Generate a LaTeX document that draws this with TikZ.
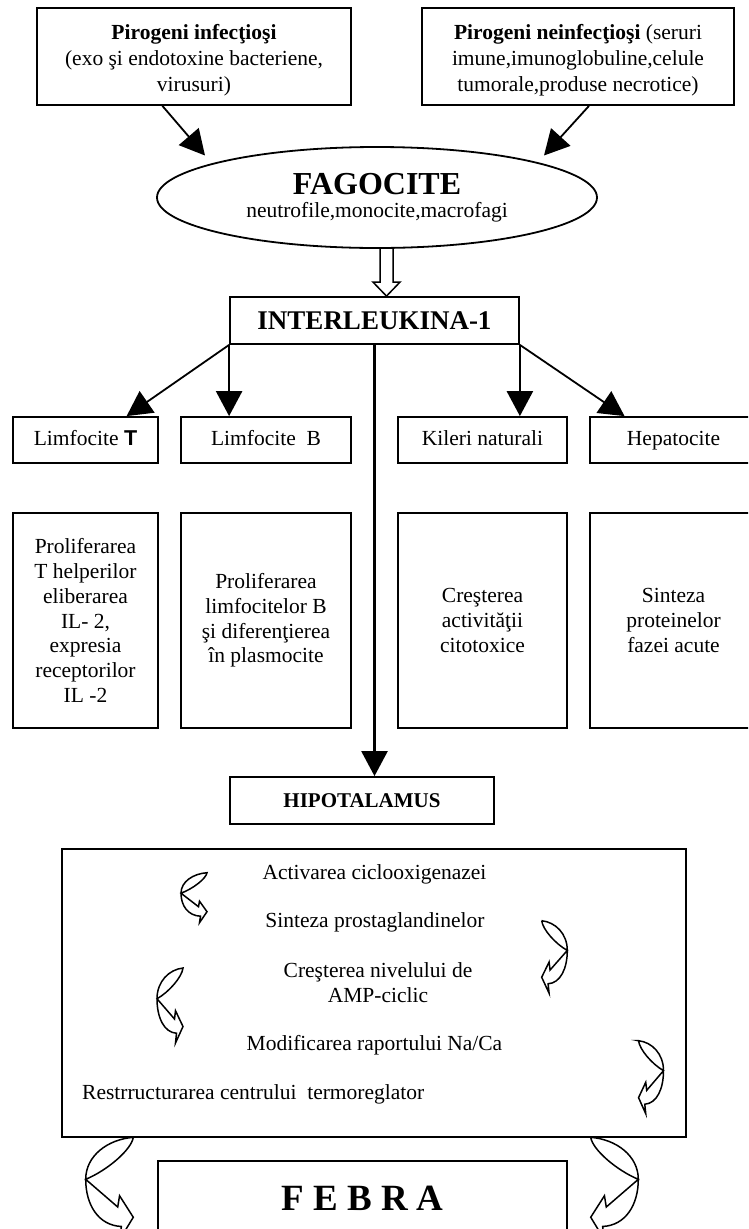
\documentclass[tikz,border=0pt]{standalone}
\usepackage{fontspec}
\setmainfont{Liberation Serif}
\newfontfamily\arialf{Liberation Sans}
\usetikzlibrary{arrows.meta,calc,shapes.geometric}
\newcommand{\nsz}{\fontsize{21.5}{24.8}\selectfont}
\newcommand{\curlyshape}{\draw[curly] (26,0) .. controls (12,1) and (0,9) .. (0,20.5)
      .. controls (0,33) and (7,43) .. (19.5,43.5) -- (18.5,50) -- (26,39)
      -- (18.5,28.5) -- (17.5,34) -- (0,20.5) .. controls (12,16) and (25,6) .. cycle;}
\begin{document}
\begin{tikzpicture}[x=1pt,y=-1pt,
  box/.style={draw, line width=1.8pt, rectangle, inner sep=0pt, align=center, font=\nsz},
  sb/.style={text height=15pt, text depth=4.5pt},
  txt/.style={inner sep=0pt, align=center, font=\nsz},
  arr/.style={line width=1.8pt, -{Triangle[length=25pt,width=26pt]}},
  varr/.style={line width=2.5pt, -{Triangle[length=25pt,width=26pt]}},
  curly/.style={line width=1.5pt, line join=miter},
  hollow/.style={line width=1.5pt, line join=miter}]
\useasboundingbox (0,0) rectangle (748,1229);
\clip (0,0) rectangle (748,1229);

% top boxes
\node[box, minimum width=314pt, minimum height=97pt, font={\fontsize{21.5}{26}\selectfont}] (pi) at (194,56.5)
  {\rule{0pt}{23pt}\textbf{Pirogeni infecţioşi}\\(exo şi endotoxine bacteriene,\\virusuri)};
\node[box, minimum width=312pt, minimum height=97pt, font={\fontsize{21.5}{26}\selectfont}] (pn) at (578,56.5)
  {\rule{0pt}{23pt}\textbf{Pirogeni neinfecţioşi} (seruri\\imune,imunoglobuline,celule\\tumorale,produse necrotice)};

% ellipse
\node[draw, ellipse, line width=1.8pt, minimum width=440pt, minimum height=101pt,
  inner sep=0pt, align=center, font=\nsz] (fag) at (377,197.5)
  {{\fontsize{32}{32}\selectfont\bfseries FAGOCITE}\\[-2pt]neutrofile,monocite,macrofagi};

\coordinate (pis) at ($(pi.south west)!0.4!(pi.south east)$);
\coordinate (fagl) at ($(fag.center)+(-172,-42)$);
\coordinate (pns) at ($(pn.south west)!0.535!(pn.south east)$);
\coordinate (fagr) at ($(fag.center)+(167,-42)$);
\draw[arr] (pis) -- (fagl);
\draw[arr] (pns) -- (fagr);

% interleukina
\node[box, minimum width=289pt, minimum height=47pt, font={\fontsize{27}{30}\selectfont\bfseries}] (il) at (374.5,320.5) {INTERLEUKINA-1};

% hollow arrow
\coordinate (ha) at ($(il.north)+(12,0)$);
\draw[hollow] ($(ha)+(-6.5,-49)$) -- ($(ha)+(-6.5,-14)$) -- ($(ha)+(-13.5,-14)$) -- (ha)
  -- ($(ha)+(13.5,-14)$) -- ($(ha)+(6.5,-14)$) -- ($(ha)+(6.5,-49)$);

% small boxes
\node[box, sb, minimum width=145pt, minimum height=46pt] (lt) at (85.5,440) {Limfocite {\arialf\bfseries T}};
\node[box, sb, minimum width=170pt, minimum height=46pt] (lb) at (266,440) {Limfocite\ \ B};
\node[box, sb, minimum width=169pt, minimum height=46pt] (kn) at (482.5,440) {Kileri naturali};
\node[box, sb, minimum width=167pt, minimum height=46pt] (hp) at (673.5,440) {Hepatocite};

% tall boxes
\node[box, minimum width=145pt, minimum height=215pt] (t1) at (85.5,620.5)
  {Proliferarea\\T helperilor\\eliberarea\\IL- 2,\\expresia\\receptorilor\\IL -2};
\node[box, minimum width=170pt, minimum height=215pt] (t2) at (266,620.5)
  {Proliferarea\\limfocitelor B\\şi diferenţierea\\în plasmocite};
\node[box, minimum width=169pt, minimum height=215pt] (t3) at (482.5,620.5)
  {Creşterea\\activităţii\\citotoxice};
\node[box, minimum width=167pt, minimum height=215pt] (t4) at (673.5,620.5)
  {Sinteza\\proteinelor\\fazei acute};

% hipotalamus
\node[box, minimum width=264pt, minimum height=47pt, font={\fontsize{21}{24}\selectfont\bfseries}] (hip) at (362,800.5) {HIPOTALAMUS};

% connectors from interleukina
\draw[arr] (il.south west) -- ($(lt.north west)!0.78!(lt.north east)$);
\draw[varr] (il.south west) -- (il.south west |- lb.north);
\draw[varr] (il.south) -- (il.south |- hip.north);
\draw[varr] (il.south east) -- (il.south east |- kn.north);
\draw[arr] (il.south east) -- ($(hp.north west)!0.21!(hp.north east)$);

% big box
\node[box, minimum width=624pt, minimum height=288pt] (hb) at (374,993) {};
\node[txt, sb] (a1) at (374.5,874) {Activarea ciclooxigenazei};
\node[txt, sb] (a2) at (375,922) {Sinteza prostaglandinelor};
\node[txt] (a3) at (378,982.5) {Creşterea nivelului de\\AMP-ciclic};
\node[txt, sb] (a4) at (374.5,1045) {Modificarea raportului Na/Ca};
\node[txt, sb, anchor=west] (a5) at (82,1094) {Restrructurarea centrului\ \ termoreglator};

% curly arrows
\begin{scope}[shift={(181,872.7)}] \curlyshape \end{scope}
\begin{scope}[shift={(157,968)}, yscale=1.5] \curlyshape \end{scope}
\begin{scope}[shift={(567.3,920.7)}, xscale=-0.985, yscale=1.45] \curlyshape \end{scope}
\begin{scope}[shift={(663.5,1040.7)}, xscale=-0.96, yscale=1.46] \curlyshape \end{scope}
\begin{scope}[shift={(85.7,1137.3)}, xscale=1.83, yscale=2.05] \curlyshape \end{scope}
\begin{scope}[shift={(638.3,1137.3)}, xscale=-1.83, yscale=2.05] \curlyshape \end{scope}

% febra
\node[box, minimum width=409pt, minimum height=74pt, font={\fontsize{37}{40}\selectfont\bfseries}] (fb) at (362.5,1198) {F E B R A};
\end{tikzpicture}
\end{document}
